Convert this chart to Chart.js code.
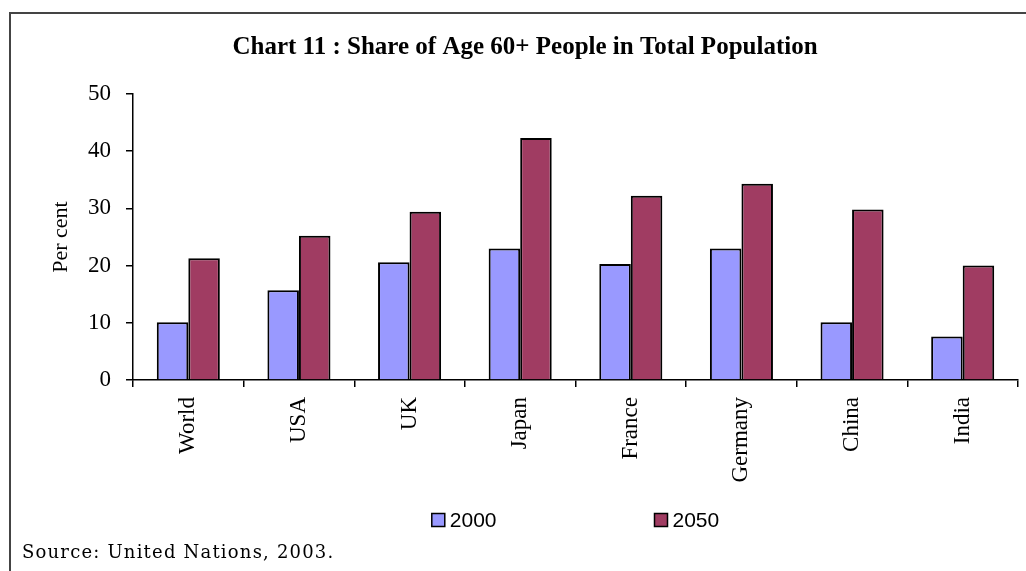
<!DOCTYPE html>
<html>
<head>
<meta charset="utf-8">
<script src="https://cdn.jsdelivr.net/npm/chart.js@4.4.1/dist/chart.umd.min.js"></script>
<style>
  html, body { margin: 0; padding: 0; background: #fff; }
  #chart { display: block; }
</style>
</head>
<body>
<canvas id="chart" width="1026" height="571"></canvas>
<script>
// data
const countries = ['World', 'USA', 'UK', 'Japan', 'France', 'Germany', 'China', 'India'];
const share2000 = [10.1, 15.7, 20.6, 23.0, 20.3, 23.0, 10.1, 7.6];
const share2050 = [21.3, 25.2, 29.4, 42.3, 32.2, 34.3, 29.8, 20.0];
const yTicks = [0, 10, 20, 30, 40, 50];

const serif = '"Liberation Serif", "Times New Roman", serif';

// frame, legend and source note
const extras = {
  id: 'extras',
  afterDraw(chart) {
    const ctx = chart.ctx;
    const area = chart.chartArea;
    ctx.save();

    // outer frame (top + left edges visible)
    ctx.strokeStyle = '#444';
    ctx.lineWidth = 2;
    ctx.beginPath();
    ctx.moveTo(1026, 13);
    ctx.lineTo(10, 13);
    ctx.lineTo(10, 571);
    ctx.stroke();

    // legend
    ctx.font = '21px "Liberation Sans", Arial, sans-serif';
    ctx.textBaseline = 'middle';
    const box = 13, gapText = 5, gapItems = 158, ly = 520;
    const items = chart.data.datasets.map(ds => ({
      text: ds.label, color: ds.backgroundColor,
      w: box + gapText + ctx.measureText(ds.label).width
    }));
    const total = items.reduce((s, it) => s + it.w, 0) + gapItems * (items.length - 1);
    let x = (area.left + area.right) / 2 - total / 2;
    items.forEach(it => {
      ctx.fillStyle = it.color;
      ctx.fillRect(x, ly - box / 2, box, box);
      ctx.strokeStyle = '#000';
      ctx.lineWidth = 1.5;
      ctx.strokeRect(x, ly - box / 2, box, box);
      ctx.fillStyle = '#000';
      ctx.fillText(it.text, x + box + gapText, ly + 1);
      x += it.w + gapItems;
    });

    // source note
    ctx.font = '18px "DejaVu Serif", serif';
    ctx.letterSpacing = '1.2px';
    ctx.textAlign = 'left';
    ctx.fillText('Source: United Nations, 2003.', 22, 553);
    ctx.restore();
  }
};

new Chart(document.getElementById('chart'), {
  type: 'bar',
  data: {
    labels: countries,
    datasets: [
      {
        label: '2000',
        data: share2000,
        backgroundColor: '#9999ff',
        borderColor: '#000',
        borderWidth: 2,
        categoryPercentage: 0.57,
        barPercentage: 1.0
      },
      {
        label: '2050',
        data: share2050,
        backgroundColor: '#a03c62',
        borderColor: '#000',
        borderWidth: 2,
        categoryPercentage: 0.57,
        barPercentage: 1.0
      }
    ]
  },
  options: {
    responsive: false,
    animation: false,
    devicePixelRatio: 1,
    layout: { padding: { left: 32, right: 8, top: 0, bottom: 0 } },
    plugins: {
      legend: { display: false },
      tooltip: { enabled: false },
      title: {
        display: true,
        text: 'Chart 11 : Share of Age 60+ People in Total Population',
        color: '#000',
        font: { family: serif, size: 25, weight: 'bold' },
        padding: { top: 33, bottom: 31 }
      }
    },
    scales: {
      x: {
        afterFit: scale => { scale.height = 191; },
        border: { color: '#000', width: 1.5 },
        grid: { display: true, drawOnChartArea: false, color: '#000', tickLength: 7, lineWidth: 1.5 },
        ticks: {
          color: '#000',
          font: { family: serif, size: 23 },
          minRotation: 90,
          maxRotation: 90,
          padding: 10
        }
      },
      y: {
        min: 0,
        max: 50,
        afterFit: scale => { scale.width = 101; },
        afterBuildTicks: scale => { scale.ticks = yTicks.map(v => ({ value: v })); },
        border: { color: '#000', width: 1.5 },
        grid: { display: true, drawOnChartArea: false, color: '#000', tickLength: 7, lineWidth: 1.5 },
        ticks: {
          color: '#000',
          font: { family: serif, size: 23 },
          padding: 15
        },
        title: {
          display: true,
          text: 'Per cent',
          color: '#000',
          font: { family: serif, size: 22 },
          padding: { top: 16, bottom: 0 }
        }
      }
    }
  },
  plugins: [extras]
});
</script>
</body>
</html>
